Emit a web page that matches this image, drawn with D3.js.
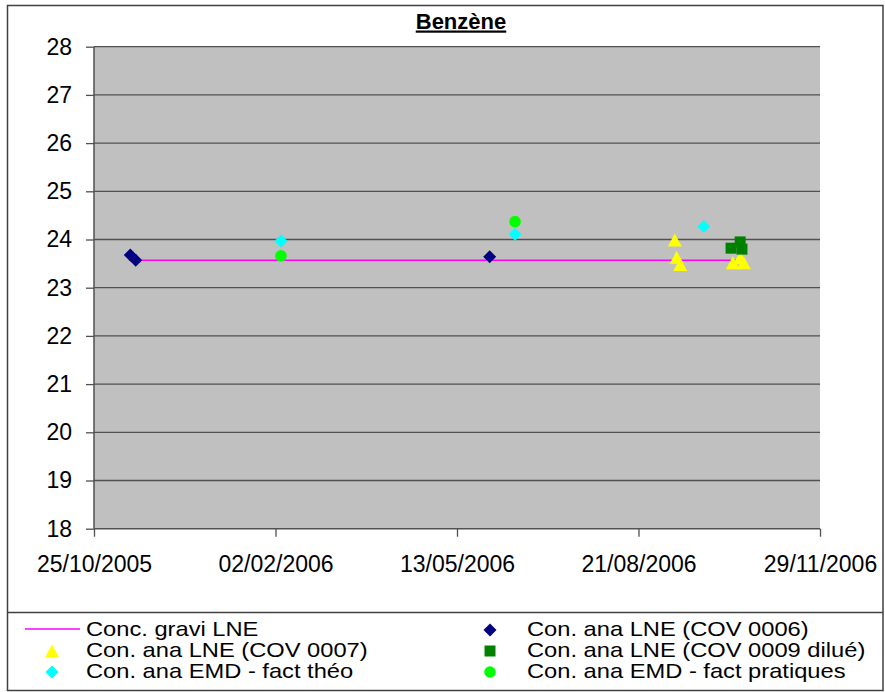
<!DOCTYPE html>
<html>
<head>
<meta charset="utf-8">
<script src="https://cdn.jsdelivr.net/npm/d3@7"></script>
<style>
  body { margin: 0; background: #fff; }
  svg { display: block; font-family: Arial, "Liberation Sans", sans-serif; }
</style>
</head>
<body>
<div id="chart"></div>
<script>
/* -----------------------
data
------------------------- */

var xTicks = ["25/10/2005", "02/02/2006", "13/05/2006", "21/08/2006", "29/11/2006"];
var yTicks = [18, 19, 20, 21, 22, 23, 24, 25, 26, 27, 28];

var graviDates = ["14/11/2005", "16/10/2006"];
var graviVals  = [23.57, 23.57];

var cov0006Dates = ["14/11/2005", "17/11/2005", "31/05/2006"];
var cov0006Vals  = [23.68, 23.57, 23.64];

var cov0007Dates = ["10/09/2006", "11/09/2006", "13/09/2006", "12/10/2006", "16/10/2006", "18/10/2006"];
var cov0007Vals  = [23.99, 23.63, 23.48, 23.52, 23.62, 23.52];

var cov0009Dates = ["11/10/2006", "16/10/2006", "17/10/2006"];
var cov0009Vals  = [23.82, 23.95, 23.80];

var theoDates = ["05/02/2006", "14/06/2006", "26/09/2006"];
var theoVals  = [23.97, 24.11, 24.27];

var pratDates = ["05/02/2006", "14/06/2006"];
var pratVals  = [23.66, 24.37];

var legendNames = [
	"Conc. gravi LNE", "Con. ana LNE (COV 0006)",
	"Con. ana LNE (COV 0007)", "Con. ana LNE (COV 0009 dilué)",
	"Con. ana EMD - fact théo", "Con. ana EMD - fact pratiques"
];

/* -----------------------
main variables
------------------------- */

var width = 885, height = 692;
var plot = {left: 94, right: 820, top: 46.7, bottom: 528.7};
var parse = d3.utcParse("%d/%m/%Y");
var fmt = d3.utcFormat("%d/%m/%Y");

var svg = d3.select("#chart").append("svg")
	.attr("width", width)
	.attr("height", height);

var x = d3.scaleUtc()
	.domain([parse(xTicks[0]), parse(xTicks[xTicks.length - 1])])
	.range([plot.left, plot.right]);

var y = d3.scaleLinear()
	.domain([18, 28])
	.range([plot.bottom, plot.top]);

// marker shapes, centred on their box like Excel does
function diamond(r) { return "M0," + (-r) + "L" + r + ",0L0," + r + "L" + (-r) + ",0Z"; }
function triangle(w, h) { return "M0," + (-h / 2) + "L" + (w / 2) + "," + (h / 2) + "L" + (-w / 2) + "," + (h / 2) + "Z"; }
function square(s) { return "M" + (-s / 2) + "," + (-s / 2) + "h" + s + "v" + s + "h" + (-s) + "Z"; }
function circle(r) { return "M" + (-r) + ",0a" + r + "," + r + " 0 1,0 " + (2 * r) + ",0a" + r + "," + r + " 0 1,0 " + (-2 * r) + ",0Z"; }

var shapes = {
	navy: {d: diamond(6.5), fill: "#000080"},
	yellow: {d: triangle(14, 13), fill: "#FFFF00"},
	green: {d: square(11), fill: "#008000"},
	cyan: {d: diamond(6.5), fill: "#00FFFF"},
	lime: {d: circle(5.8), fill: "#00FF00"}
};

/* -----------------------
frame
------------------------- */

svg.append("rect")
	.attr("x", 7.5).attr("y", 5.5)
	.attr("width", 875.5).attr("height", 685)
	.attr("fill", "#fff")
	.attr("stroke", "#404040")
	.attr("stroke-width", 1.5);

svg.append("text")
	.attr("x", 461).attr("y", 28.5)
	.attr("text-anchor", "middle")
	.attr("font-size", 22)
	.attr("font-weight", "bold")
	.attr("text-decoration", "underline")
	.text("Benzène");

svg.append("rect")
	.attr("x", plot.left).attr("y", plot.top)
	.attr("width", plot.right - plot.left)
	.attr("height", plot.bottom - plot.top)
	.attr("fill", "#C0C0C0");

// grid
svg.append("g")
	.selectAll("line")
	.data(yTicks.slice(1))
	.enter().append("line")
	.attr("x1", plot.left).attr("x2", plot.right)
	.attr("y1", function (d) { return y(d); })
	.attr("y2", function (d) { return y(d); })
	.attr("stroke", "#505050")
	.attr("stroke-width", 1.3);

/* -----------------------
axes
------------------------- */

var yAxis = svg.append("g")
	.attr("transform", "translate(" + plot.left + ",0)")
	.call(d3.axisLeft(y).tickValues(yTicks).tickSize(8).tickPadding(14).tickFormat(d3.format("d")));

var xAxis = svg.append("g")
	.attr("transform", "translate(0," + plot.bottom + ")")
	.call(d3.axisBottom(x).tickValues(xTicks.map(parse)).tickSize(8).tickPadding(19).tickFormat(fmt));

[yAxis, xAxis].forEach(function (a) {
	a.select(".domain").attr("stroke", "#505050").attr("stroke-width", 1.5);
	a.selectAll(".tick line").attr("stroke", "#505050").attr("stroke-width", 1.3);
	a.selectAll("text").attr("font-size", 23).attr("fill", "#000")
		.attr("font-family", "Arial, 'Liberation Sans', sans-serif");
});
xAxis.select(".domain").attr("d", "M" + plot.left + ",0H" + plot.right);
yAxis.select(".domain").attr("d", "M0," + plot.top + "V" + plot.bottom);

/* -----------------------
series
------------------------- */

var line = d3.line()
	.x(function (d) { return x(d[0]); })
	.y(function (d) { return y(d[1]); });

svg.append("path")
	.datum(graviDates.map(function (d, i) { return [parse(d), graviVals[i]]; }))
	.attr("d", line)
	.attr("fill", "none")
	.attr("stroke", "#FF00FF")
	.attr("stroke-width", 1.5);

function points(dates, vals, shape) {
	svg.append("g")
		.selectAll("path")
		.data(dates.map(function (d, i) { return [parse(d), vals[i]]; }))
		.enter().append("path")
		.attr("transform", function (d) { return "translate(" + x(d[0]) + "," + y(d[1]) + ")"; })
		.attr("d", shape.d)
		.attr("fill", shape.fill);
}

points(cov0006Dates, cov0006Vals, shapes.navy);
points(cov0007Dates, cov0007Vals, shapes.yellow);
points(cov0009Dates, cov0009Vals, shapes.green);
points(theoDates, theoVals, shapes.cyan);
points(pratDates, pratVals, shapes.lime);

/* -----------------------
legend
------------------------- */

svg.append("line")
	.attr("x1", 7.5).attr("x2", 883)
	.attr("y1", 612.5).attr("y2", 612.5)
	.attr("stroke", "#404040")
	.attr("stroke-width", 1.5);

var legendMarks = [null, shapes.navy, shapes.yellow, shapes.green, shapes.cyan, shapes.lime];

var item = svg.selectAll(".legend")
	.data(legendNames)
	.enter().append("g")
	.attr("class", "legend")
	.attr("transform", function (d, i) {
		return "translate(" + (i % 2 === 0 ? 52 : 490) + "," + (629 + Math.floor(i / 2) * 21) + ")";
	});

// rows sit closer than the font height, so squash the text a little
item.append("text")
	.attr("transform", function (d, i) { return "translate(" + (i % 2 === 0 ? 34 : 37) + ",6.5) scale(1.03,0.9)"; })
	.attr("font-size", 23)
	.text(function (d) { return d; });

item.each(function (d, i) {
	var g = d3.select(this);
	if (i === 0) {
		g.append("line").attr("x1", -27).attr("x2", 28)
			.attr("stroke", "#FF00FF").attr("stroke-width", 1.5);
	} else {
		g.append("path").attr("d", legendMarks[i].d).attr("fill", legendMarks[i].fill)
			.attr("transform", "translate(0,1)");
	}
});
</script>
</body>
</html>
